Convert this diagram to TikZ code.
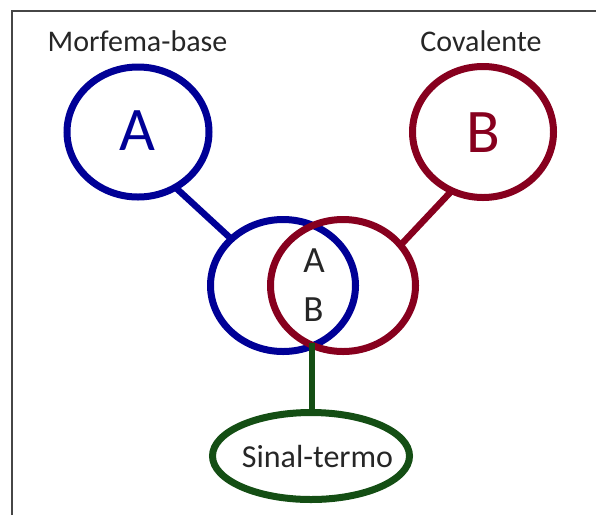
\documentclass[tikz,border=0pt]{standalone}
\usepackage{fontspec}
\setmainfont{Carlito}
\usetikzlibrary{shapes.geometric}

\definecolor{ringblue}{RGB}{0,0,150}
\definecolor{ringred}{RGB}{135,0,30}
\definecolor{ringgreen}{RGB}{20,78,20}
\definecolor{inkgray}{RGB}{38,38,38}
\definecolor{framegray}{RGB}{70,70,70}

\tikzset{
  ring/.style={ellipse, draw, line width=7pt, inner sep=0pt, outer sep=0pt},
  tie/.style={line width=6.5pt},
  caption/.style={text=inkgray, anchor=base, inner sep=0pt,
                  font=\fontsize{30}{36}\selectfont},
  bigletter/.style={anchor=base, inner sep=0pt,
                    font=\fontsize{62}{70}\selectfont},
  midletter/.style={text=inkgray, anchor=base, inner sep=0pt,
                    font=\fontsize{37}{44}\selectfont}
}

\begin{document}
\begin{tikzpicture}[x=1pt, y=-1pt]
\useasboundingbox (0,0) rectangle (596,515);

% open frame: left and top edges
\coordinate (fl) at (12,515);
\coordinate (ftl) at (12,11);
\coordinate (ftr) at (596,11);
\draw[framegray, line width=1.6pt] (fl) -- (ftl) -- (ftr);

% the two source morphemes
\node[ring, ringblue, minimum width=142pt, minimum height=130pt] (ra) at (138,132) {};
\node[ring, ringred,  minimum width=141pt, minimum height=131pt] (rb) at (483,132) {};
\node[bigletter, ringblue] (la) at (137,150) {A};
\node[bigletter, ringred]  (lb) at (483.5,152) {B};

% captions
\node[caption] (ma) at (137.5,51) {Morfema-base};
\node[caption] (cv) at (481,51) {Covalente};

% overlapping pair
\node[ring, ringblue, minimum width=145pt, minimum height=132pt] (oa) at (283,285.5) {};
\node[ring, ringred,  minimum width=145pt, minimum height=132pt] (ob) at (343,285.5) {};
\node[midletter] (ia) at (314,272) {A};
\node[midletter] (ib) at (313.5,321) {B};

% links
\draw[tie, ringblue] (ra.-56) -- (oa.138);
\draw[tie, ringred]  (rb.-118) -- (ob.35);

% resulting term
\node[ring, ringgreen, minimum width=197pt, minimum height=87pt] (st) at (311,456) {};
\node[caption, font=\fontsize{32}{38}\selectfont] (stl) at (317.5,467) {Sinal-termo};
\coordinate (meet) at (312,343);
\draw[tie, ringgreen] (meet) -- (meet |- st.north);
\end{tikzpicture}
\end{document}
